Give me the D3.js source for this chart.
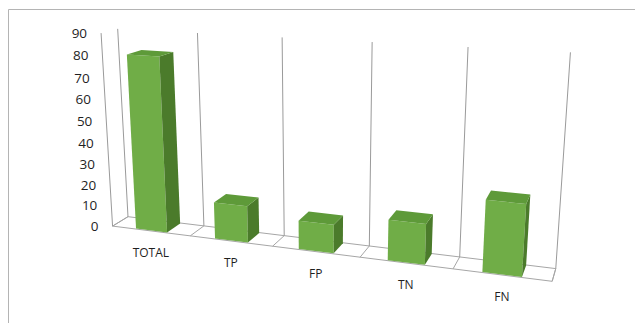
<!DOCTYPE html>
<html>
<head>
<meta charset="utf-8">
<script src="https://cdn.jsdelivr.net/npm/d3@7"></script>
<style>
    body { margin: 0; background: #fff; }
    svg text { font-family: "Open Sans", "Noto Sans", sans-serif; fill: #1f1f1f; }
</style>
</head>
<body>
<div id="chart"></div>
<script>
// chart data
const categories = ["TOTAL", "TP", "FP", "TN", "FN"];
const values = [81, 17, 13, 18, 31];
const yTicks = [0, 10, 20, 30, 40, 50, 60, 70, 80, 90];

const w = 635, h = 323;

// size of the 3d box (category, value, depth) and the camera
const boxW = 469, boxH = 211, boxD = 33;
const cam = {alpha: 19, beta: 15, dist: 960, cx: 321, cy: 147};

const rad = Math.PI / 180;
const cosA = Math.cos(cam.alpha * rad), sinA = Math.sin(cam.alpha * rad);
const cosB = Math.cos(cam.beta * rad), sinB = Math.sin(cam.beta * rad);

// 3d point -> screen point (yaw, pitch, then perspective)
function project(p) {
    let X0 = p[0] - boxW / 2, Y0 = p[1] - boxH / 2, Z0 = p[2] - boxD / 2;
    let x1 = X0 * cosA + Z0 * sinA;
    let d1 = Z0 * cosA - X0 * sinA;
    let y2 = Y0 * cosB + d1 * sinB;
    let d2 = d1 * cosB - Y0 * sinB;
    let s = cam.dist / (cam.dist + d2);
    return [cam.cx + x1 * s, cam.cy - y2 * s];
}

const x = d3.scaleBand()
    .domain(categories)
    .range([0, boxW])
    .paddingInner(0.6)
    .paddingOuter(0.3);

const y = d3.scaleLinear()
    .domain([0, 90])
    .range([0, boxH]);

const z = d3.scaleLinear()
    .domain([0, 1])
    .range([0, boxD]);

const line = d3.line();
const poly = (pts) => line(pts.map(project)) + "Z";

const svg = d3.select("#chart")
    .append("svg")
    .attr("width", w)
    .attr("height", h);

// outer frame (cut off at right and bottom)
svg.append("path")
    .attr("d", "M8.5," + h + "V9.5H" + w)
    .attr("fill", "none")
    .attr("stroke", "#b4b4b4");

const g = svg.append("g");

// category boundaries
let bounds = d3.range(categories.length + 1).map(i => i * x.step());

// floor
g.append("path")
    .attr("d", poly([[0, 0, z(0)], [boxW, 0, z(0)], [boxW, 0, z(1)], [0, 0, z(1)]]))
    .attr("fill", "none")
    .attr("stroke", "#a6a6a6");

g.selectAll(".floor-line")
    .data(bounds)
    .enter()
    .append("path")
    .attr("class", "floor-line")
    .attr("d", b => line([project([b, 0, z(0)]), project([b, 0, z(1)])]))
    .attr("stroke", "#a6a6a6");

// back wall gridlines
g.selectAll(".wall-line")
    .data(bounds)
    .enter()
    .append("path")
    .attr("class", "wall-line")
    .attr("d", b => line([project([b, 0, z(1)]), project([b, y(90), z(1)])]))
    .attr("stroke", "#9a9a9a");

// value axis line
g.append("path")
    .attr("d", line([project([0, 0, z(0)]), project([0, y(90), z(0)])]))
    .attr("stroke", "#9a9a9a");

// value labels
g.selectAll(".ytick")
    .data(yTicks)
    .enter()
    .append("text")
    .attr("class", "ytick")
    .attr("x", d => project([0, y(d), z(0)])[0] - 14)
    .attr("y", d => project([0, y(d), z(0)])[1])
    .attr("dy", "0.35em")
    .attr("text-anchor", "end")
    .attr("font-size", 13.5)
    .text(d => d);

// bars, left to right so the nearer ones paint last
let bars = categories.map((c, i) => ({cat: c, val: values[i]}));

bars.forEach(d => {
    let x0 = x(d.cat), x1 = x0 + x.bandwidth();
    let z0 = z(0.04), z1 = z(0.96);
    let top = y(d.val);
    g.append("path")
        .attr("d", poly([[x0, 0, z0], [x1, 0, z0], [x1, top, z0], [x0, top, z0]]))
        .attr("fill", "#70ad47");
    g.append("path")
        .attr("d", poly([[x1, 0, z0], [x1, 0, z1], [x1, top, z1], [x1, top, z0]]))
        .attr("fill", "#4b7b2b");
    g.append("path")
        .attr("d", poly([[x0, top, z0], [x1, top, z0], [x1, top, z1], [x0, top, z1]]))
        .attr("fill", "#5e9a39");
});

// category labels
g.selectAll(".xtick")
    .data(categories)
    .enter()
    .append("text")
    .attr("class", "xtick")
    .attr("x", d => project([x(d) + x.bandwidth() / 2, 0, z(0)])[0])
    .attr("y", d => project([x(d) + x.bandwidth() / 2, 0, z(0)])[1] + 22)
    .attr("dy", "0.35em")
    .attr("text-anchor", "middle")
    .attr("font-size", 12)
    .text(d => d);
</script>
</body>
</html>
